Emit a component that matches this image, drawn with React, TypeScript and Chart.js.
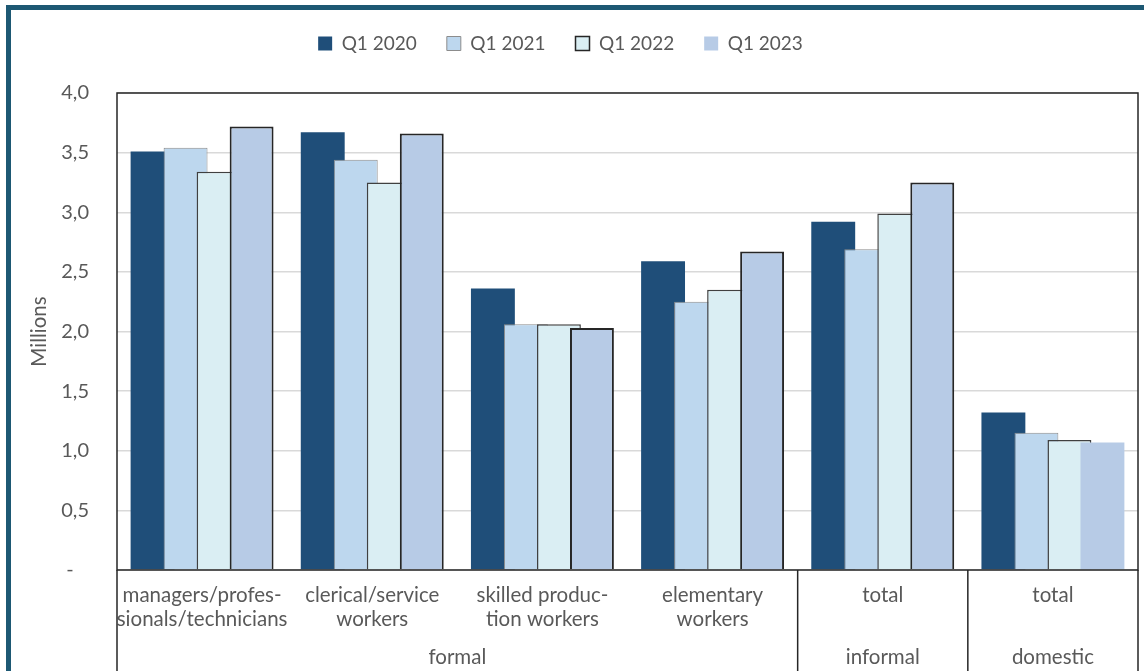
import React, { useEffect, useRef } from 'react';
import { Chart, registerables } from 'chart.js';

Chart.register(...registerables);

// ---------- data ----------
const categories: string[][] = [
  ['managers/profes-', 'sionals/technicians'],
  ['clerical/service', 'workers'],
  ['skilled produc-', 'tion workers'],
  ['elementary', 'workers'],
  ['total'],
  ['total'],
];
const groupLabels: string[] = ['formal', 'informal', 'domestic'];
const groupSpans: number[] = [4, 1, 1];

const seriesNames: string[] = ['Q1 2020', 'Q1 2021', 'Q1 2022', 'Q1 2023'];
const q1_2020: number[] = [3.51, 3.67, 2.36, 2.59, 2.92, 1.32];
const q1_2021: number[] = [3.54, 3.44, 2.06, 2.25, 2.69, 1.15];
const q1_2022: number[] = [3.34, 3.25, 2.06, 2.35, 2.99, 1.09];
const q1_2023: number[] = [3.72, 3.66, 2.03, 2.67, 3.25, 1.07];

const yMin = 0;
const yMax = 4;
const yStep = 0.5;

// ---------- styles ----------
const FONT = 'Lato, "Open Sans", sans-serif';
const TEXT = '#595959';
const fills = ['#1f4e79', '#bdd7ee', '#daeef3', '#b7cbe6'];
const borders = ['#1f4e79', '#8c8c8c', '#404040', '#262626'];
const borderWidths = [0, 1, 1.5, 2];

export default function App() {
  const ref = useRef<HTMLCanvasElement | null>(null);

  useEffect(() => {
    if (!ref.current) return;
    const n = categories.length;
    const allSeries = [q1_2020, q1_2021, q1_2022, q1_2023];

    // later series are painted over earlier ones (Excel-style overlap)
    const drawOrder = {
      id: 'drawOrder',
      beforeDatasetsDraw(chart: any) {
        const metas = chart.getSortedVisibleDatasetMetas();
        for (let i = 0; i < metas.length; i++) chart._drawDataset(metas[i]);
        return false;
      },
    };

    const legendShift = {
      id: 'legendShift',
      afterLayout(chart: any) {
        if (chart.legend) {
          chart.legend.left -= 20;
          chart.legend.right -= 20;
        }
      },
    };

    const decor = {
      id: 'decor',
      afterDraw(chart: any) {
        const { ctx, chartArea } = chart;
        const xs = chart.scales.x;
        const catW = Math.abs(xs.getPixelForValue(0) - xs.getPixelForValue(1));
        ctx.save();
        ctx.strokeStyle = '#262626';
        ctx.lineWidth = 1.5;
        ctx.strokeRect(chartArea.left, chartArea.top, chartArea.right - chartArea.left, chartArea.bottom - chartArea.top);
        let start = 0;
        const edges: number[] = [];
        ctx.fillStyle = TEXT;
        ctx.font = `20.5px ${FONT}`;
        ctx.textAlign = 'center';
        ctx.textBaseline = 'middle';
        groupLabels.forEach((g, gi) => {
          const end = start + groupSpans[gi] - 1;
          const l = xs.getPixelForValue(start) - catW / 2;
          const r = xs.getPixelForValue(end) + catW / 2;
          edges.push(l, r);
          ctx.fillText(g, (l + r) / 2, chartArea.bottom + 87);
          start = end + 1;
        });
        ctx.beginPath();
        const seen = new Set<number>();
        edges.forEach((e) => {
          const k = Math.round(e);
          if (seen.has(k)) return;
          seen.add(k);
          ctx.moveTo(e, chartArea.bottom);
          ctx.lineTo(e, chart.height);
        });
        ctx.stroke();
        ctx.restore();
      },
    };

    const chart = new Chart(ref.current, {
      type: 'bar',
      data: {
        labels: categories,
        datasets: allSeries.map((s, si) => ({
          label: seriesNames[si],
          data: s,
          backgroundColor: fills[si],
          borderColor: borders[si],
          borderWidth:
            si === 3 ? s.map((_, i) => (i === n - 1 ? 0 : borderWidths[si])) : borderWidths[si],
          borderSkipped: 'start',
          categoryPercentage: 0.776,
          barPercentage: 1.33,
        })),
      },
      options: {
        animation: false,
        responsive: false,
        devicePixelRatio: 1,
        layout: { padding: { left: 23, top: 4, right: 6, bottom: 0 } },
        plugins: {
          tooltip: { enabled: false },
          title: { display: true, text: '', weight: 500, padding: { top: 0, bottom: 18 }, font: { size: 10 } } as any,
          legend: {
            position: 'top',
            labels: {
              color: TEXT,
              font: { family: FONT, size: 19 },
              boxWidth: 14,
              boxHeight: 14,
              padding: 30,
              generateLabels: () =>
                seriesNames.map((name, si) => ({
                  text: name,
                  fillStyle: fills[si],
                  strokeStyle: si === 1 ? '#8c8c8c' : si === 2 ? '#262626' : fills[si],
                  lineWidth: si === 1 ? 1 : si === 2 ? 1.5 : 0,
                  fontColor: TEXT,
                  hidden: false,
                  datasetIndex: si,
                })),
            },
          },
        },
        scales: {
          x: {
            type: 'category',
            grid: { display: false, drawTicks: false },
            border: { display: false },
            ticks: {
              color: TEXT,
              font: { family: FONT, size: 20.5, lineHeight: 1.17 },
              padding: 13,
              maxRotation: 0,
              autoSkip: false,
            },
            afterFit: (s: any) => {
              s.height = 101;
            },
          },
          y: {
            min: yMin,
            max: yMax,
            ticks: {
              stepSize: yStep,
              color: TEXT,
              font: { family: FONT, size: 20 },
              padding: 28,
              callback: (v: any) => (Number(v) === 0 ? '-   ' : Number(v).toFixed(1).replace('.', ',')),
            },
            grid: { color: '#d9d9d9', lineWidth: 1.5, drawTicks: false },
            border: { display: false },
            title: {
              display: true,
              text: 'Millions',
              color: TEXT,
              font: { family: FONT, size: 20.5 },
              padding: { top: 4, bottom: 0 },
            },
            afterFit: (s: any) => {
              s.width = 94;
            },
          },
        },
      },
      plugins: [drawOrder, legendShift, decor],
    } as any);

    return () => chart.destroy();
  }, []);

  return (
    <div
      style={{
        position: 'fixed',
        left: 0,
        top: 0,
        width: 1144,
        height: 671,
        background: '#fff',
        overflow: 'hidden',
      }}
    >
      <div
        style={{
          position: 'absolute',
          left: 6,
          top: 5,
          width: 1160,
          height: 661,
          borderLeft: '5px solid #1d5873',
          borderTop: '5px solid #1d5873',
          borderBottom: '2px solid #8fb0c2',
        }}
      />
      <canvas ref={ref} width={1144} height={671} style={{ position: 'absolute', left: 0, top: 0 }} />
    </div>
  );
}
